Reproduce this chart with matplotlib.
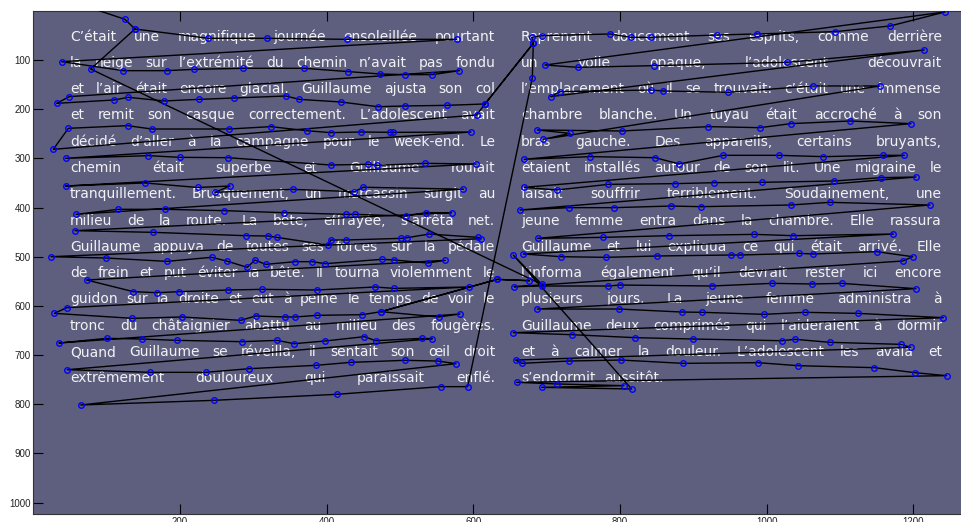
import matplotlib
matplotlib.use("Agg")
import matplotlib.pyplot as plt
from matplotlib import font_manager

# stimulus text, two justified columns
left_lines = [
    "C’était une magnifique journée ensoleillée pourtant",
    "la neige sur l’extrémité du chemin n’avait pas fondu",
    "et l’air était encore glacial. Guillaume ajusta son col",
    "et remit son casque correctement. L’adolescent avait",
    "décidé d’aller à la campagne pour le week-end. Le",
    "chemin était superbe et Guillaume roulait",
    "tranquillement. Brusquement, un marcassin surgit au",
    "milieu de la route. La bête, effrayée, s’arrêta net.",
    "Guillaume appuya de toutes ses forces sur la pédale",
    "de frein et put éviter la bête. Il tourna violemment le",
    "guidon sur la droite et eut à peine le temps de voir le",
    "tronc du châtaignier abattu au milieu des fougères.",
    "Quand Guillaume se réveilla, il sentait son œil droit",
    "extrêmement douloureux qui paraissait enflé.",
]
right_lines = [
    "Reprenant doucement ses esprits, comme derrière",
    "un voile opaque, l’adolescent découvrait",
    "l’emplacement où il se trouvait: c’était une immense",
    "chambre blanche. Un tuyau était accroché à son",
    "bras gauche. Des appareils, certains bruyants,",
    "étaient installés autour de son lit. Une migraine le",
    "faisait souffrir terriblement. Soudainement, une",
    "jeune femme entra dans la chambre. Elle rassura",
    "Guillaume et lui expliqua ce qui était arrivé. Elle",
    "l’informa également qu’il devrait rester ici encore",
    "plusieurs jours. La jeune femme administra à",
    "Guillaume deux comprimés qui l’aideraient à dormir",
    "et à calmer la douleur. L’adolescent les avala et",
    "s’endormit aussitôt.",
]

# fixations in reading order (image pixels)
fix_x = [138.7,
         238.7, 318.2, 427.3, 577.3,
         38.7, 122.8, 181.9, 219.6, 286.4, 369.6, 429.6, 472.7, 506.8, 544.1, 580.9,
         49.1, 31.9, 110.0, 129.6, 178.7, 225.9, 274.1, 344.6, 362.7, 419.6, 469.5, 506.8, 563.6, 615.9, 604.5,
         27.3, 47.8, 128.7, 161.4, 266.8, 323.7, 372.7, 405.5, 446.4, 486.4, 490.9, 596.8,
         44.1, 156.9, 200.0, 265.0, 405.5, 455.9, 469.1, 534.1, 603.6,
         44.1, 152.3, 224.1, 268.2, 247.8, 353.6, 437.7, 450.0, 586.4,
         58.2, 115.9, 179.6, 260.0, 341.8, 426.4, 438.6, 508.2, 535.0, 570.4,
         56.9, 163.7, 289.6, 320.5, 331.8, 402.3, 405.5, 425.9, 501.4, 510.0, 540.0, 606.8, 610.5,
         24.1, 99.1, 181.9, 243.2, 263.7, 291.8, 302.3, 316.8, 357.3, 380.0, 398.2, 475.0, 491.8, 537.7, 561.8,
         72.8, 136.4, 169.1, 199.1, 265.9, 312.3, 387.3, 465.9, 491.8, 594.1,
         45.5, 28.7, 135.0, 202.3, 282.7, 303.2, 343.2, 356.8, 387.3, 448.6, 474.1, 632.7, 676.4, 632.7, 474.1, 552.7, 581.8,
         35.0, 100.0, 147.8, 196.4, 285.0, 332.7, 355.5, 397.7, 451.4, 466.8, 529.5, 544.1,
         46.4, 159.1, 235.0, 294.1, 385.0, 433.2, 506.8, 551.4, 576.4,
         64.6, 246.8, 413.6, 555.9, 592.3,
         680.5, 681.8, 615.9, 681.8, 679.6,
         693.2, 786.4, 814.5, 841.8, 931.8, 986.4, 1093.2, 1168.1, 1243.1,
         697.7, 742.3, 846.8, 1028.2, 1214.9,
         705.5, 718.2, 841.8, 859.1, 947.7, 1062.7, 1154.5,
         695.5, 731.8, 687.3, 802.3, 920.5, 990.9, 1032.7, 1113.6, 1196.8,
         669.5, 759.1, 847.7, 880.9, 940.9, 1016.3, 1077.2, 1159.1, 1187.7,
         669.5, 713.6, 784.1, 875.0, 928.6, 994.1, 1092.3, 1155.9, 1203.6,
         663.6, 730.5, 791.8, 869.5, 910.4, 1032.7, 1086.3, 1222.7,
         687.7, 777.3, 866.8, 983.2, 1036.3, 1172.7,
         668.2, 719.5, 780.9, 850.0, 950.9, 963.6, 1044.1, 1063.6, 1150.0, 1199.1, 1185.4,
         655.5, 694.1, 784.1, 800.0, 925.0, 1007.7, 1062.3, 1102.3, 1203.6,
         687.3, 798.6, 884.1, 912.3, 996.8, 1052.3, 1124.1, 1240.9,
         654.5, 735.0, 820.5, 900.0, 1020.4, 1038.6, 1086.3, 1182.7, 1196.3,
         657.7, 665.9, 730.5, 801.4, 885.5, 988.6, 1043.2, 1146.8, 1202.2, 1245.4,
         659.1, 714.5, 805.4, 693.2, 815.9,
         654.5, 693.3, 78.2, 138.7, 125.0, 50.0]
fix_y = [37.0,
         55.9, 55.9, 58.0, 58.0,
         103.4, 121.7, 121.7, 119.0, 116.9, 116.9, 123.7, 128.4, 129.8, 129.8, 121.7,
         174.5, 188.1, 181.3, 175.9, 183.3, 180.0, 177.2, 173.2, 180.0, 185.4, 194.9, 193.5, 192.2, 189.4, 211.8,
         281.6, 238.9, 233.5, 240.3, 240.3, 235.5, 243.7, 247.7, 246.4, 247.1, 247.1, 246.4,
         299.9, 294.5, 297.9, 298.6, 313.5, 312.1, 314.1, 310.1, 311.4,
         356.2, 350.0, 359.2, 356.2, 369.0, 363.0, 367.7, 358.7, 362.7,
         413.8, 403.6, 403.6, 406.3, 410.4, 413.8, 413.8, 417.2, 410.4, 410.4,
         447.0, 450.4, 457.2, 457.9, 460.6, 476.2, 466.0, 466.0, 462.6, 461.2, 453.8, 460.6, 463.3,
         499.9, 502.6, 509.4, 501.2, 508.7, 521.6, 506.6, 515.5, 510.0, 510.0, 514.1, 505.3, 506.6, 512.7, 507.3,
         547.3, 571.0, 573.1, 571.0, 567.6, 566.3, 567.6, 561.5, 564.3, 561.5,
         603.6, 615.1, 625.2, 622.5, 629.3, 620.5, 622.5, 622.5, 619.1, 617.8, 611.7, 546.0, 548.7, 546.0, 611.7, 622.5, 616.4,
         675.4, 665.9, 667.3, 670.0, 672.7, 670.0, 676.8, 671.3, 662.5, 670.7, 665.9, 666.6,
         729.6, 735.0, 735.0, 727.6, 720.8, 714.7, 710.6, 712.0, 717.4,
         801.4, 791.9, 779.7, 764.1, 764.1,
         135.9, 66.1, 189.4, 66.1, 53.9,
         50.5, 47.1, 53.9, 53.9, 49.2, 47.1, 42.4, 30.9, 2.4,
         110.2, 114.9, 111.5, 104.7, 79.7,
         174.5, 164.4, 161.0, 163.0, 165.7, 152.8, 152.8,
         261.3, 249.1, 242.3, 244.3, 235.5, 237.6, 229.4, 224.0, 229.4,
         301.9, 296.5, 298.6, 311.4, 293.8, 293.8, 296.5, 293.8, 293.8,
         358.9, 364.3, 352.8, 351.4, 349.4, 348.7, 346.0, 339.2, 337.9,
         405.0, 400.2, 400.2, 396.9, 398.2, 394.8, 389.4, 394.8,
         462.6, 460.6, 457.2, 454.5, 457.2, 453.8,
         494.4, 499.9, 501.2, 498.5, 496.5, 496.5, 493.1, 494.4, 489.7, 499.9, 508.7,
         560.9, 559.5, 559.5, 557.5, 559.5, 554.1, 555.4, 554.1, 564.9,
         606.3, 606.3, 612.4, 613.0, 617.1, 613.0, 615.1, 623.9,
         654.4, 658.5, 664.5, 667.3, 670.7, 667.9, 674.0, 678.1, 684.2,
         710.0, 716.7, 712.0, 710.0, 716.7, 715.4, 721.5, 725.5, 735.7, 741.8,
         755.3, 758.7, 762.1, 765.5, 768.9,
         496.5, 556.1, 118.3, 37.0, 17.3, -20.0]

x_ticks = [200, 400, 600, 800, 1000, 1200]
y_ticks = [100, 200, 300, 400, 500, 600, 700, 800, 900, 1000]

installed = {f.name for f in font_manager.fontManager.ttflist}
tick_font = 'Liberation Sans Narrow' if 'Liberation Sans Narrow' in installed else 'Liberation Sans'

fig = plt.figure(figsize=(9.62, 5.22), dpi=100)
ax = fig.add_axes([0.0346, 0.0144, 0.9758, 0.9649])
ax.set_facecolor('#5e5f7e')
ax.set_xlim(0, 1280)
ax.set_ylim(1024, 0)

renderer = fig.canvas.get_renderer()
unit = 1280 / ax.get_window_extent(renderer).width
txt_kw = dict(family='DejaVu Sans', fontsize=10, color='#f2f2f5', va='baseline', ha='left', zorder=2)


def put_line(line, x0, x1, y, justify=True):
    words = line.split()
    ts = [ax.text(x0, y, w, **txt_kw) for w in words]
    ws = [t.get_window_extent(renderer).width * unit for t in ts]
    if justify and len(ws) > 1:
        gap = (x1 - x0 - sum(ws)) / (len(ws) - 1)
    else:
        gap = 12
    x = x0
    for t, w in zip(ts, ws):
        t.set_x(x)
        x += w + gap


for i, line in enumerate(left_lines):
    put_line(line, 50, 630, 60.5 + 53.45 * i)
for i, line in enumerate(right_lines):
    put_line(line, 665, 1239, 60.5 + 53.45 * i, justify=(i < len(right_lines) - 1))

ax.plot(fix_x, fix_y, color='black', lw=1.0, zorder=3)
ax.plot(fix_x, fix_y, 'o', mfc='none', mec='#0000ff', ms=4, mew=1.0, zorder=4)

ax.set_xticks(x_ticks)
ax.set_yticks(y_ticks)
ax.tick_params(direction='in', length=7, width=0.8, top=True, right=True,
               labelsize=7, pad=2, labelcolor='#222222')
for lab in ax.get_xticklabels() + ax.get_yticklabels():
    lab.set_family(tick_font)
for sp in ax.spines.values():
    sp.set_linewidth(0.8)
    sp.set_color('#333333')

fig.savefig('out.png', dpi=100)
